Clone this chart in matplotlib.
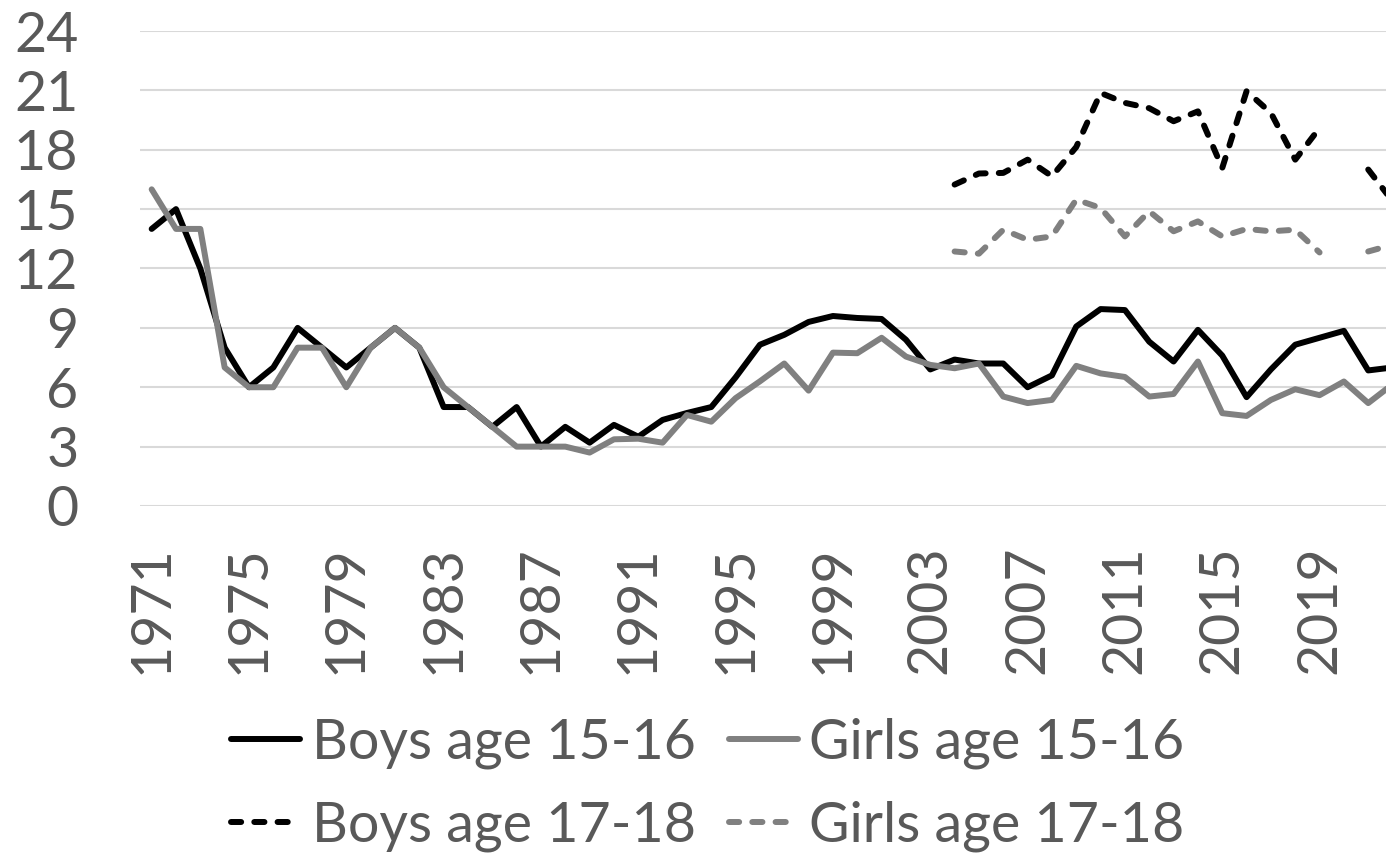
import numpy as np
import matplotlib
matplotlib.use('Agg')
import matplotlib.pyplot as plt

nan = np.nan

years = list(range(1971, 2023))

boys_15_16 = [14, 15, 12, 8, 6, 7, 9, 8, 7, 8,
              9, 8, 5, 5, 4, 5, 3, 4, 3.2, 4.1,
              3.5, 4.35, 4.7, 5.0, 6.5, 8.15, 8.65, 9.3, 9.6, 9.5,
              9.45, 8.4, 6.9, 7.4, 7.2, 7.2, 6.0, 6.6, 9.07, 9.95,
              9.9, 8.3, 7.3, 8.9, 7.6, 5.5, 6.9, 8.15, 8.5, 8.85,
              6.85, 7.0]

girls_15_16 = [16, 14, 14, 7, 6, 6, 8, 8, 6, 8,
               9, 8, 6, 5, 4, 3, 3, 3, 2.7, 3.37,
               3.4, 3.2, 4.6, 4.26, 5.45, 6.3, 7.2, 5.83, 7.75, 7.72,
               8.5, 7.55, 7.13, 6.96, 7.2, 5.53, 5.2, 5.36, 7.08, 6.7,
               6.52, 5.53, 5.66, 7.3, 4.69, 4.55, 5.36, 5.9, 5.6, 6.29,
               5.2, 6.15]

# 17-18 series start in 2004, no value for 2020
boys_17_18 = [nan] * 33 + [16.24, 16.8, 16.83, 17.5, 16.66, 18.14, 20.87, 20.37,
                           20.1, 19.44, 19.94, 17.08, 20.96, 19.86, 17.5, 19.1,
                           nan, 17.0, 15.4]

girls_17_18 = [nan] * 33 + [12.86, 12.75, 13.96, 13.45, 13.62, 15.48, 15.06, 13.62,
                            14.89, 13.88, 14.38, 13.62, 14.0, 13.88, 13.96, 12.81,
                            nan, 12.86, 13.2]

yticks = [0, 3, 6, 9, 12, 15, 18, 21, 24]

text_col = '#595959'
plt.rcParams['font.family'] = ['Lato', 'DejaVu Sans']

fig = plt.figure(figsize=(13.86, 8.63), dpi=100)
ax = fig.add_axes([139.5 / 1386, 357 / 863, 1 - 139.5 / 1386, 475 / 863])

lw = 4.3
dash = (1.7, 2.2)
l1, = ax.plot(years, boys_15_16, color='black', lw=lw, solid_joinstyle='round',
              solid_capstyle='round', label='Boys age 15-16')
l2, = ax.plot(years, girls_15_16, color='#808080', lw=lw, solid_joinstyle='round',
              solid_capstyle='round', label='Girls age 15-16')
l3, = ax.plot(years, boys_17_18, color='black', lw=lw, dashes=dash,
              dash_capstyle='round', dash_joinstyle='round', label='Boys age 17-18')
l4, = ax.plot(years, girls_17_18, color='#808080', lw=lw, dashes=dash,
              dash_capstyle='round', dash_joinstyle='round', label='Girls age 17-18')

ax.set_xlim(1970.5, 2021.73)
ax.set_ylim(0, 24)
ax.set_yticks(yticks)
ax.set_xticks(years[::4])
ax.set_xticklabels([str(y) for y in years[::4]], rotation=90)

ax.grid(axis='y', color='#d9d9d9', lw=1.5, zorder=0)
ax.set_axisbelow(True)
for s in ax.spines.values():
    s.set_visible(False)
ax.tick_params(axis='y', length=0, pad=44, labelsize=40, labelcolor=text_col)
ax.tick_params(axis='x', length=0, pad=28, labelsize=40, labelcolor=text_col)

leg = fig.legend([l1, l3, l2, l4],
                 ['Boys age 15-16', 'Boys age 17-18', 'Girls age 15-16', 'Girls age 17-18'],
                 ncol=2, frameon=False, loc='upper left',
                 bbox_to_anchor=(231 / 1386, 1 - 717 / 863),
                 fontsize=40, handlelength=1.25, handletextpad=0.2,
                 columnspacing=0.6, labelspacing=0.58, borderpad=0, borderaxespad=0)
for t in leg.get_texts():
    t.set_color(text_col)

fig.savefig('out.png', dpi=100)
